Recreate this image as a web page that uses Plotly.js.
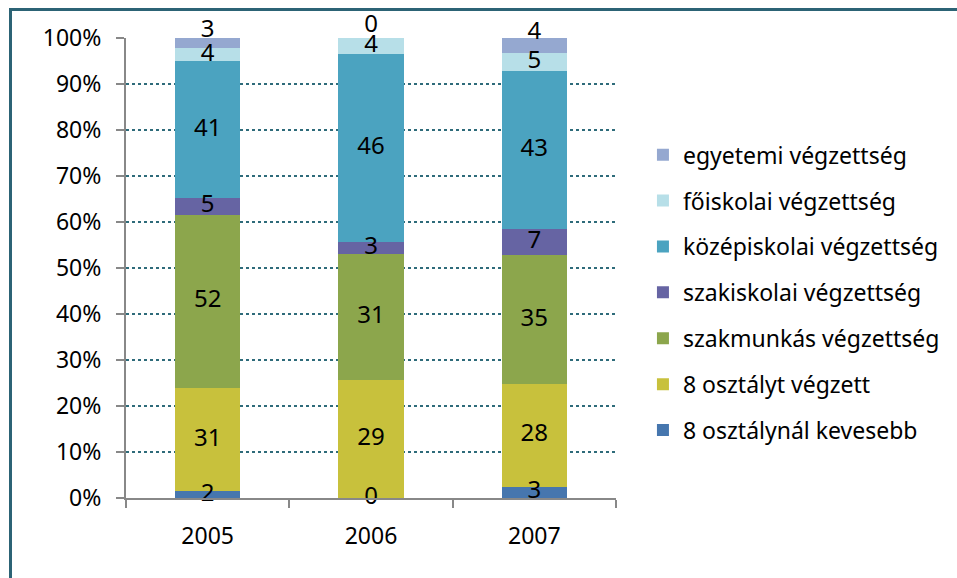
<!DOCTYPE html>
<html>
<head>
<meta charset="utf-8">
<script src="https://cdn.plot.ly/plotly-3.0.1.min.js"></script>
<style>
html,body{margin:0;padding:0;background:#fff;width:957px;height:578px;overflow:hidden;}
#frame{position:absolute;left:9px;top:8px;width:1200px;height:1000px;border-top:3px solid #2C6375;border-left:3px solid #2C6375;box-sizing:border-box;}
#chart{position:absolute;left:0;top:0;width:957px;height:578px;}
</style>
</head>
<body>
<div id="frame"></div>
<div id="chart"></div>
<script>
const years = ['2005', '2006', '2007'];
const seriesNames = [
  '8 osztálynál kevesebb',
  '8 osztályt végzett',
  'szakmunkás végzettség',
  'szakiskolai végzettség',
  'középiskolai végzettség',
  'főiskolai végzettség',
  'egyetemi végzettség'
];
const kevesebb8 = [2, 0, 3];
const osztaly8 = [31, 29, 28];
const szakmunkas = [52, 31, 35];
const szakiskolai = [5, 3, 7];
const kozepiskolai = [41, 46, 43];
const foiskolai = [4, 4, 5];
const egyetemi = [3, 0, 4];
const colors = ['#4676AE', '#C8C13C', '#8CA64C', '#6664A3', '#4BA3C0', '#B7DFE8', '#95A8D0'];

const seriesValues = [kevesebb8, osztaly8, szakmunkas, szakiskolai, kozepiskolai, foiskolai, egyetemi];
const totals = years.map((_, i) => seriesValues.reduce((s, arr) => s + arr[i], 0));
const pct = seriesValues.map(arr => arr.map((v, i) => v / totals[i] * 100));

const FONT = 'Noto Sans, sans-serif';
const traces = [];
seriesNames.forEach((name, k) => {
  traces.push({
    type: 'bar', x: years, y: pct[k], name: name,
    marker: {color: colors[k], line: {width: 0}},
    legendgroup: 'g' + k, legendrank: 100 - k,
    hoverinfo: 'name+text', text: seriesValues[k].map(String), textposition: 'none'
  });
});
// label positions at segment midpoints
const lx = [], ly = [], lt = [], lp = [];
years.forEach((yr, i) => {
  let cum = 0;
  seriesValues.forEach((arr, k) => {
    const h = pct[k][i];
    lx.push(yr); ly.push(cum + h / 2); lt.push(String(arr[i]));
    lp.push(k === seriesValues.length - 1 ? 'top center' : 'middle center');
    cum += h;
  });
});
traces.push({
  type: 'scatter', mode: 'text', x: lx, y: ly, text: lt, textposition: lp,
  textfont: {family: FONT, size: 24, color: '#000'},
  showlegend: false, cliponaxis: false, hoverinfo: 'skip'
});

const layout = {
  width: 957, height: 578,
  margin: {l: 126, r: 341, t: 38, b: 80},
  paper_bgcolor: 'rgba(0,0,0,0)', plot_bgcolor: 'rgba(0,0,0,0)',
  barmode: 'stack', bargap: 0.6,
  font: {family: FONT, size: 23, color: '#000'},
  xaxis: {
    type: 'category', range: [-0.5, 2.5], tickson: 'boundaries',
    ticks: 'outside', ticklen: 8, tickwidth: 2, tickcolor: '#888',
    showline: true, linecolor: '#888', linewidth: 2, showgrid: false,
    tickfont: {family: FONT, size: 23, color: '#000'}, ticklabelstandoff: 16
  },
  yaxis: {
    range: [0, 100], dtick: 10, ticksuffix: '%',
    ticks: 'outside', ticklen: 8, tickwidth: 2, tickcolor: '#888',
    showline: true, linecolor: '#888', linewidth: 2,
    showgrid: true, gridcolor: '#2E6B7A', griddash: 'dot', gridwidth: 2,
    zeroline: false, tickfont: {family: FONT, size: 23, color: '#000'}, ticklabelstandoff: 10
  },
  legend: {
    x: 1.055, xanchor: 'left', y: 0.793, yanchor: 'top',
    traceorder: 'grouped', tracegroupgap: 13,
    font: {family: FONT, size: 23, color: '#000'},
    bgcolor: 'rgba(0,0,0,0)'
  },
  showlegend: true
};
Plotly.newPlot('chart', traces, layout, {displayModeBar: false, staticPlot: true});
</script>
</body>
</html>
